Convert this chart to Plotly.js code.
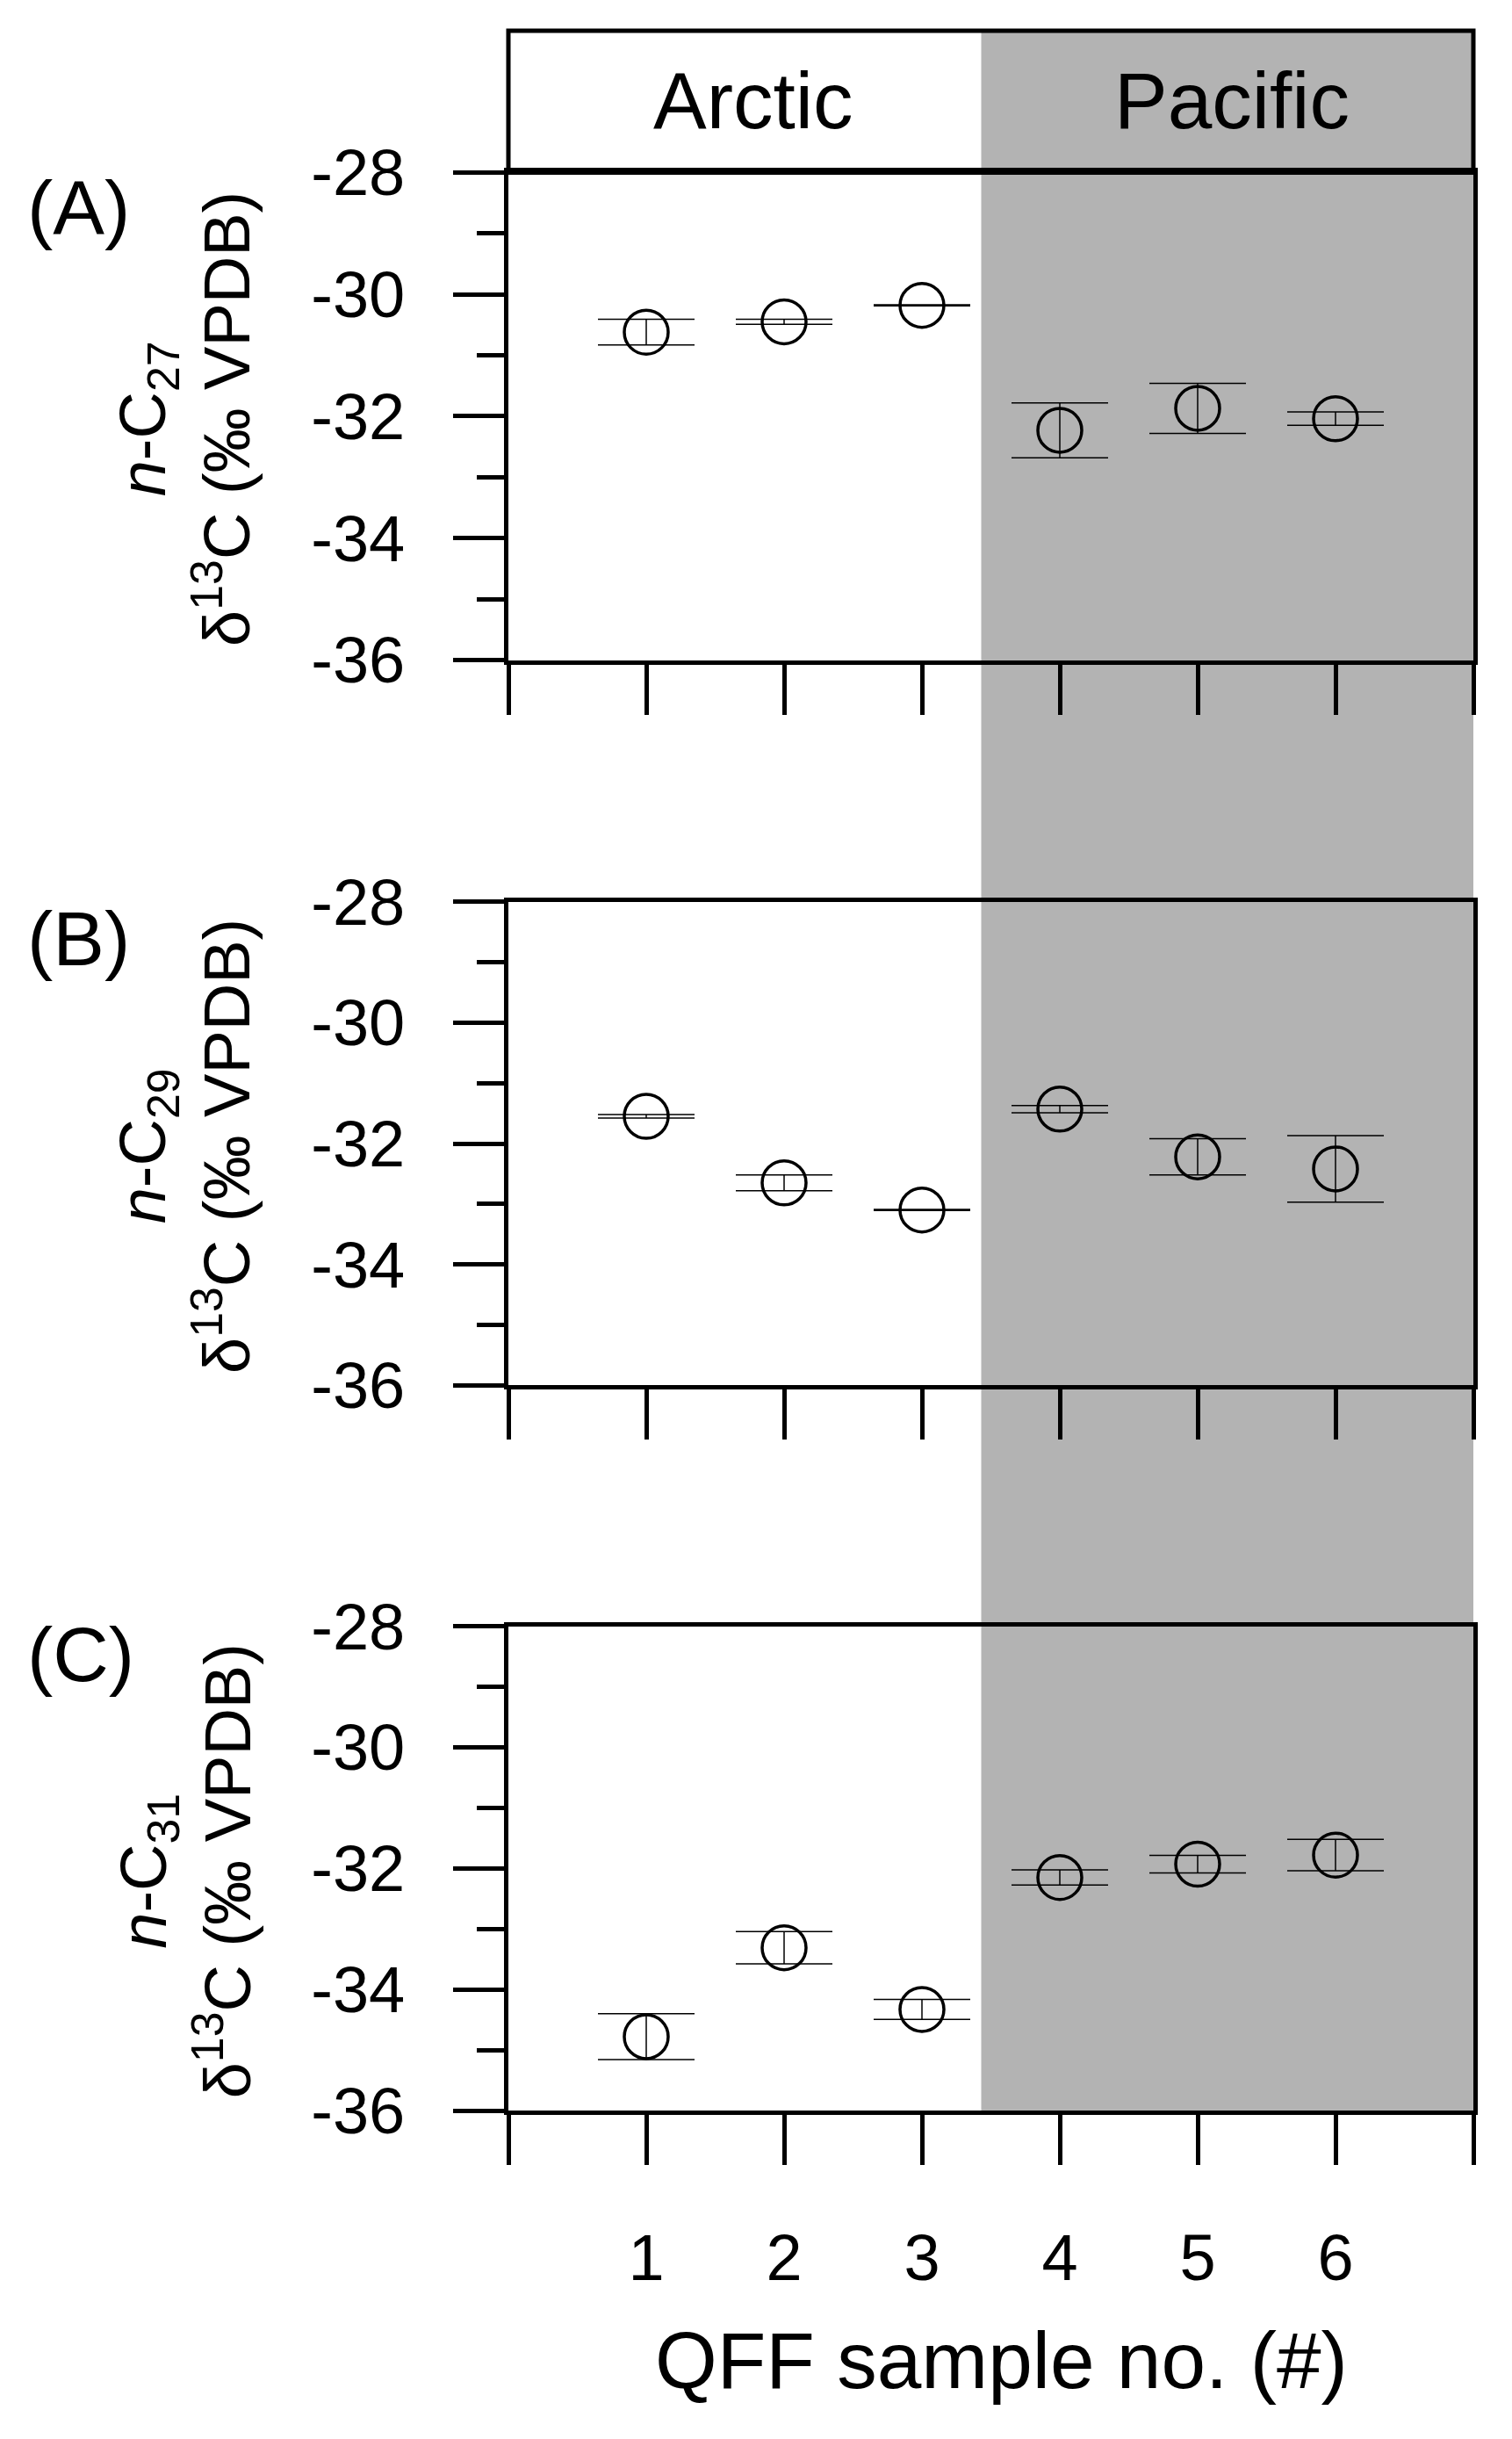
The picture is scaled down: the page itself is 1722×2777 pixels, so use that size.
<!DOCTYPE html>
<html>
<head>
<meta charset="utf-8">
<script src="https://cdn.plot.ly/plotly-3.0.1.min.js"></script>
<style>
  html, body { margin: 0; padding: 0; background: #fff; }
  #graph { width: 1722px; height: 2777px; }
</style>
</head>
<body>
<div id="graph"></div>
<script>
// sample numbers and tick labels
var samples = [1, 2, 3, 4, 5, 6];
var xTickText = ["1", "2", "3", "4", "5", "6"];
var yTickVals = [-36, -34, -32, -30, -28];
var yTickText = ["-36", "-34", "-32", "-30", "-28"];

// d13C means and errors
var c27 = [-30.62, -30.45, -30.18, -32.23, -31.87, -32.04];
var c27err = [0.21, 0.04, 0.01, 0.45, 0.41, 0.11];
var c29 = [-31.55, -32.65, -33.1, -31.43, -32.22, -32.42];
var c29err = [0.03, 0.13, 0.01, 0.06, 0.3, 0.55];
var c31 = [-34.78, -33.31, -34.33, -32.15, -31.93, -31.78];
var c31err = [0.38, 0.265, 0.165, 0.125, 0.145, 0.26];

var regions = ["Arctic", "Pacific"];
var regionCenters = [1.78, 5.25];
var regionSplit = 3.43;
var panelLabels = ["(A)", "(B)", "(C)"];
var chains = ["27", "29", "31"];

var W = 1722, H = 2777;
var FONT = "Liberation Sans, Arial, sans-serif";
function px(x) { return x / W; }
function py(y) { return 1 - y / H; }

var xDom = [px(579), px(1678)];
var panelsPx = [[196.4, 751.5], [1026.8, 1577.2], [1851.7, 2403]];
var labelPx = [236, 1068.5, 1883];
var headerTop = 35;

var means = [c27, c29, c31];
var errs = [c27err, c29err, c31err];

var traces = [];
var layout = {
  width: W,
  height: H,
  margin: { l: 0, r: 0, t: 0, b: 0 },
  paper_bgcolor: "white",
  plot_bgcolor: "rgba(0,0,0,0)",
  showlegend: false,
  font: { family: FONT, color: "black", size: 74 },
  shapes: [],
  annotations: [],
};

for (var i = 0; i < 3; i++) {
  var n = i === 0 ? "" : String(i + 1);
  var bottom = i === 2;
  traces.push({
    x: samples,
    y: means[i],
    xaxis: "x" + n,
    yaxis: "y" + n,
    type: "scatter",
    mode: "markers",
    marker: {
      symbol: "circle-open",
      size: 50,
      color: "black",
      line: { width: 3.5, color: "black" },
    },
    error_y: {
      type: "data",
      array: errs[i],
      visible: true,
      color: "black",
      thickness: 1.5,
      width: 55,
    },
    hoverinfo: "skip",
  });

  layout["xaxis" + n] = {
    domain: xDom,
    anchor: "y" + n,
    range: [0, 7],
    tickmode: "array",
    // only the bottom panel carries the sample numbers
    tickvals: bottom ? samples : [],
    ticktext: bottom ? xTickText : [],
    ticks: "outside",
    ticklen: 57,
    tickwidth: 5,
    tickcolor: "black",
    // minor ticks give the tick marks at every integer, 0 to 7
    minor: {
      ticks: "outside",
      ticklen: 57,
      tickwidth: 5,
      tickcolor: "black",
      tick0: 0,
      dtick: 1,
      showgrid: false,
    },
    showticklabels: bottom,
    ticklabelstandoff: 42,
    tickfont: { family: FONT, size: 74, color: "black" },
    showline: true,
    linewidth: 5,
    linecolor: "black",
    mirror: true,
    showgrid: false,
    zeroline: false,
    fixedrange: true,
  };
  layout["yaxis" + n] = {
    domain: [py(panelsPx[i][1]), py(panelsPx[i][0])],
    anchor: "x" + n,
    range: [-36, -28],
    tickmode: "array",
    tickvals: yTickVals,
    ticktext: yTickText,
    ticks: "outside",
    ticklen: 58,
    tickwidth: 5,
    tickcolor: "black",
    ticklabelstandoff: 40,
    tickfont: { family: FONT, size: 74, color: "black" },
    minor: {
      ticks: "outside",
      ticklen: 31,
      tickwidth: 5,
      tickcolor: "black",
      dtick: 1,
      showgrid: false,
    },
    showline: true,
    linewidth: 5,
    linecolor: "black",
    mirror: true,
    showgrid: false,
    zeroline: false,
    fixedrange: true,
  };

  layout.annotations.push({
    text: panelLabels[i],
    xref: "paper",
    yref: "paper",
    x: px(29),
    y: py(labelPx[i]),
    xanchor: "left",
    yanchor: "middle",
    showarrow: false,
    font: { family: FONT, size: 88, color: "black" },
  });
  layout.annotations.push({
    text: "<i>n</i>-C<sub>" + chains[i] + "</sub><br>δ<sup>13</sup>C (‰ VPDB)",
    xref: "paper",
    yref: "paper",
    x: px(211),
    y: py((panelsPx[i][0] + panelsPx[i][1]) / 2 + 3),
    xanchor: "center",
    yanchor: "middle",
    textangle: -90,
    align: "center",
    showarrow: false,
    font: { family: FONT, size: 74, color: "black" },
  });
}

// grey Pacific band, running through all three panels
layout.shapes.push({
  type: "rect",
  layer: "below",
  xref: "x",
  yref: "paper",
  x0: regionSplit,
  x1: 7,
  y0: py(panelsPx[2][1]),
  y1: py(headerTop),
  fillcolor: "#b3b3b3",
  line: { width: 0 },
});
// header box
layout.shapes.push({
  type: "rect",
  layer: "above",
  xref: "paper",
  yref: "paper",
  x0: xDom[0],
  x1: xDom[1],
  y0: py(panelsPx[0][0]),
  y1: py(headerTop),
  line: { width: 5, color: "black" },
});
for (var r = 0; r < regions.length; r++) {
  layout.annotations.push({
    text: regions[r],
    xref: "x",
    yref: "paper",
    x: regionCenters[r],
    y: py(115),
    xanchor: "center",
    yanchor: "middle",
    showarrow: false,
    font: { family: FONT, size: 91, color: "black" },
  });
}
layout.annotations.push({
  text: "QFF sample no. (#)",
  xref: "paper",
  yref: "paper",
  x: px(1140),
  y: py(2687.5),
  xanchor: "center",
  yanchor: "middle",
  showarrow: false,
  font: { family: FONT, size: 91, color: "black" },
});

Plotly.newPlot("graph", traces, layout, { displayModeBar: false, staticPlot: true });
</script>
</body>
</html>
